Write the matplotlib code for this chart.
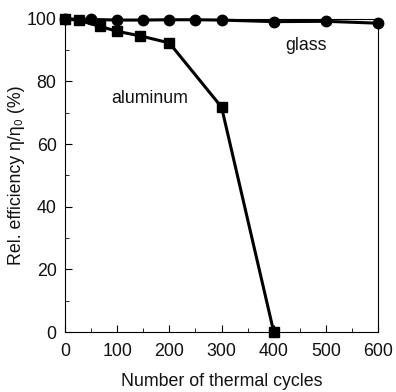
import matplotlib
matplotlib.use("Agg")
import matplotlib.pyplot as plt
from matplotlib.ticker import MultipleLocator

plt.rcParams['font.family'] = ['Liberation Sans', 'DejaVu Sans']

# glass substrate
glass_cycles = [0, 50, 100, 150, 200, 250, 300, 400, 500, 600]
glass_eff = [100, 99.8, 99.6, 99.6, 99.7, 99.7, 99.6, 99.1, 99.2, 98.6]

# aluminum substrate
alu_cycles = [0, 27, 67, 100, 143, 200, 300, 400]
alu_eff = [100, 99.5, 97.6, 96.0, 94.6, 92.3, 71.8, 0]

fig = plt.figure(figsize=(3.96, 3.92), dpi=100)
ax = fig.add_axes([0.164, 0.153, 0.791, 0.799])

ax.plot(glass_cycles, glass_eff, color='black', lw=2.2, marker='o', ms=7.5, clip_on=False, zorder=3)
ax.plot(alu_cycles, alu_eff, color='black', lw=2.2, marker='s', ms=7.5, clip_on=False, zorder=4)

ax.set_xlim(0, 600)
ax.set_ylim(0, 100)
ax.xaxis.set_major_locator(MultipleLocator(100))
ax.xaxis.set_minor_locator(MultipleLocator(50))
ax.yaxis.set_major_locator(MultipleLocator(20))
ax.yaxis.set_minor_locator(MultipleLocator(10))
ax.tick_params(which='both', direction='in', labelsize=12.8, colors='#111111')
ax.tick_params(axis='x', pad=8)
ax.tick_params(axis='y', pad=6)
ax.tick_params(which='major', length=5, color='black')
ax.tick_params(which='minor', length=3, color='black')

ax.text(461, 91.5, 'glass', fontsize=12.8, ha='center', va='center', color='#111111')
ax.text(163, 74.5, 'aluminum', fontsize=12.8, ha='center', va='center', color='#111111')

ax.set_xlabel('Number of thermal cycles', fontsize=12.8, labelpad=9, color='#111111')
ax.set_ylabel('Rel. efficiency η/η₀ (%)', fontsize=12.8, labelpad=1, color='#111111')

fig.savefig('out.png', dpi=100)
